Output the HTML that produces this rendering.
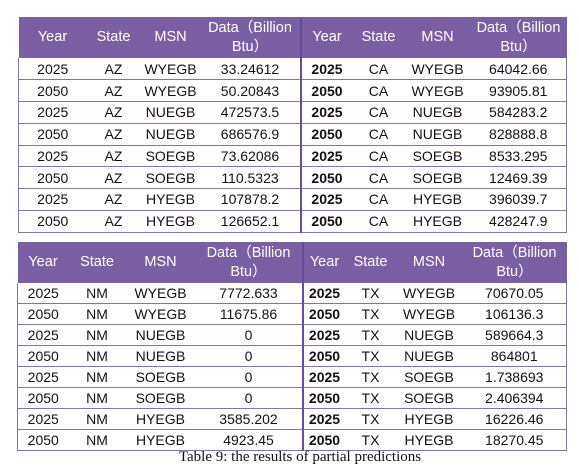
<!DOCTYPE html>
<html><head><meta charset="utf-8"><style>
body{margin:0;width:579px;height:470px;background:#fff;position:relative;overflow:hidden;font-family:"Liberation Sans","Noto Sans CJK SC",sans-serif;}
table{position:absolute;border-collapse:collapse;table-layout:fixed;font-size:14px;color:#111;}
td,th{padding:0;text-align:center;border-bottom:1px solid #8a6fb0;white-space:nowrap;overflow:visible}
th{background:#7b5fa4;color:#fff;font-weight:normal;font-size:14.5px;line-height:19px;border-bottom:none}
tr td:first-child{border-left:1px solid #8a6fb0}
tr td:last-child{border-right:1px solid #8a6fb0}
.dv{border-left:2px solid #6a4a9a}
.b{font-weight:bold}
#cap{position:absolute;left:0;width:600px;top:449px;text-align:center;font-family:"Liberation Serif",serif;font-size:15px;color:#111}
</style></head><body>
<table id="t1" style="left:18px;top:17px;width:548px">
<colgroup><col style="width:68px"><col style="width:54px"><col style="width:60px"><col style="width:100px"><col style="width:52px"><col style="width:52px"><col style="width:66px"><col style="width:96px"></colgroup>
<tr style="height:41px"><th>Year</th><th>State</th><th>MSN</th><th>Data（Billion<br>Btu）</th><th class="dv">Year</th><th>State</th><th>MSN</th><th>Data（Billion<br>Btu）</th></tr>
<tbody id="b1"></tbody></table>
<table id="t2" style="left:17px;top:242px;width:549px">
<colgroup><col style="width:51px"><col style="width:57px"><col style="width:70px"><col style="width:107px"><col style="width:43px"><col style="width:50px"><col style="width:67px"><col style="width:104px"></colgroup>
<tr style="height:41px"><th>Year</th><th>State</th><th>MSN</th><th>Data（Billion<br>Btu）</th><th class="dv">Year</th><th>State</th><th>MSN</th><th>Data（Billion<br>Btu）</th></tr>
<tbody id="b2"></tbody></table>
<div id="cap">Table 9: the results of partial predictions</div>
<script>
const years=["2025","2050","2025","2050","2025","2050","2025","2050"];
const msn=["WYEGB","WYEGB","NUEGB","NUEGB","SOEGB","SOEGB","HYEGB","HYEGB"];
const az=["33.24612","50.20843","472573.5","686576.9","73.62086","110.5323","107878.2","126652.1"];
const ca=["64042.66","93905.81","584283.2","828888.8","8533.295","12469.39","396039.7","428247.9"];
const nm=["7772.633","11675.86","0","0","0","0","3585.202","4923.45"];
const tx=["70670.05","106136.3","589664.3","864801","1.738693","2.406394","16226.46","18270.45"];
function fill(id,s1,d1,s2,d2,h){
  const tb=document.getElementById(id);
  for(let i=0;i<8;i++){
    const tr=document.createElement('tr');
    
    
    tr.style.height=h+'px';
    const cells=[[years[i],''],[s1,''],[msn[i],''],[d1[i],''],[years[i],'dv b'],[s2,''],[msn[i],''],[d2[i],'']];
    cells.forEach(c=>{const td=document.createElement('td');td.textContent=c[0];if(c[1])td.className=c[1];
      
      
      tr.appendChild(td);});
    tb.appendChild(tr);
  }
}
fill('b1','AZ',az,'CA',ca,21.75);
fill('b2','NM',nm,'TX',tx,20.9);
</script>
</body></html>
